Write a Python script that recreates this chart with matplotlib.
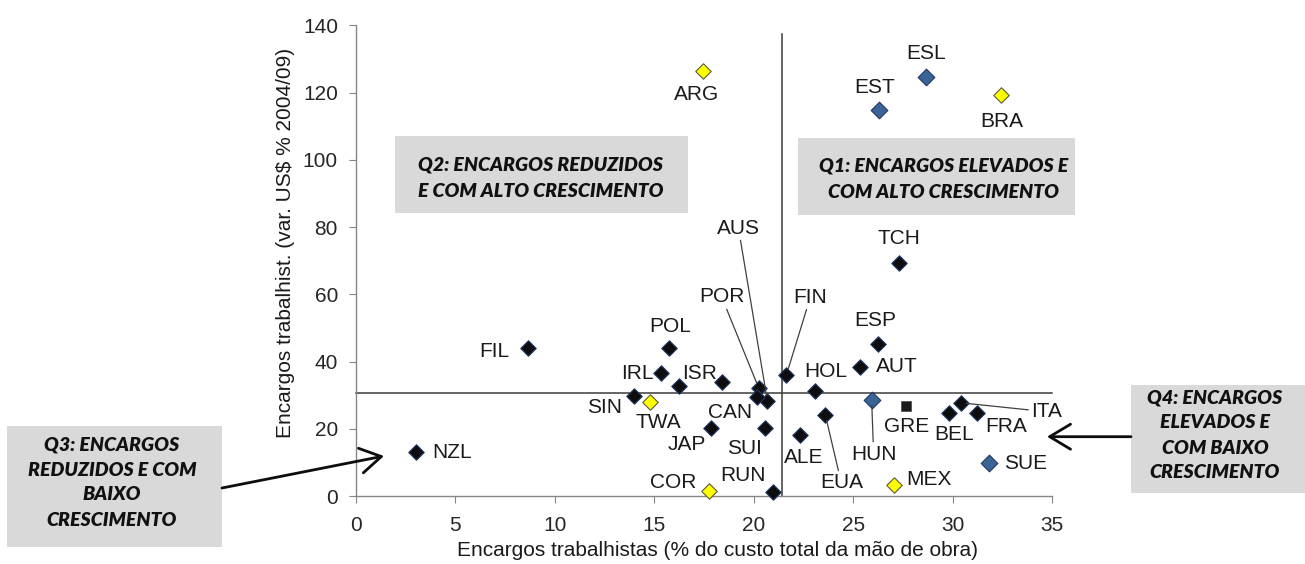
import matplotlib
matplotlib.use("Agg")
import matplotlib.pyplot as plt
from matplotlib.patches import Rectangle, FancyArrowPatch

W, H = 1305, 564

# dados
paises = ["ARG", "ESL", "EST", "BRA", "TCH", "ESP", "AUT", "HOL", "FIN", "AUS",
          "POR", "CAN", "POL", "IRL", "ISR", "", "SIN", "TWA", "JAP", "SUI",
          "RUN", "COR", "ALE", "EUA", "HUN", "GRE", "BEL", "ITA", "FRA", "SUE",
          "MEX", "FIL", "NZL"]
encargos = [17.45, 28.68, 26.30, 32.45, 27.30, 26.25, 25.33, 23.10, 21.64, 20.69,
            20.25, 20.15, 15.74, 15.33, 18.41, 16.23, 13.97, 14.77, 17.84, 20.59,
            20.97, 17.74, 22.31, 23.60, 25.93, 27.64, 29.80, 30.40, 31.22, 31.82,
            27.05, 8.63, 3.00]
variacao = [126.5, 124.7, 114.8, 119.3, 69.2, 45.3, 38.5, 31.4, 36.0, 28.3,
            32.2, 29.5, 44.0, 36.6, 34.1, 32.8, 29.8, 28.1, 20.4, 20.2,
            1.2, 1.6, 18.2, 24.2, 28.6, 26.8, 24.8, 27.8, 24.7, 9.8,
            3.4, 44.2, 13.1]
grupo = ["C", "B", "B", "C", "A", "A", "A", "A", "A", "A",
         "A", "A", "A", "A", "A", "A", "A", "C", "A", "A",
         "A", "C", "A", "A", "B", "D", "A", "A", "A", "B",
         "C", "A", "A"]

mediana_x = 21.4
mediana_y = 30.7
topo_linha_v = 137.5

x_ticks = [0, 5, 10, 15, 20, 25, 30, 35]
y_ticks = [0, 20, 40, 60, 80, 100, 120, 140]

# estilo dos marcadores por grupo
ESTILO = {
    "A": dict(marker="D", s=62, color="#0d0d0d", edgecolors="#1f3864", linewidths=0.8),
    "B": dict(marker="D", s=72, color="#3b6496", edgecolors="#1f3864", linewidths=0.8),
    "C": dict(marker="D", s=62, color="#ffff00", edgecolors="#5a5a3a", linewidths=0.8),
    "D": dict(marker="s", s=50, color="#1a1a1a", edgecolors="#555555", linewidths=0.6),
}

# deslocamento dos rotulos (pixels) e quais tem linha de chamada
ROTULO = {
    "ARG": (-6, -24), "ESL": (0, 23), "EST": (-4, 22), "BRA": (0, -27),
    "TCH": (0, 25), "ESP": (-3, 23), "AUT": (37, 0), "HOL": (10, 19),
    "FIN": (24, 78), "AUS": (-29, 173), "POR": (-37, 91), "CAN": (-27, -15),
    "POL": (1, 22), "IRL": (-23, 0), "ISR": (-23, 8), "SIN": (-29, -11),
    "TWA": (9, -21), "JAP": (-24, -17), "SUI": (-21, -20), "RUN": (-30, 17),
    "COR": (-36, 8), "ALE": (4, -22), "EUA": (16, -68), "HUN": (2, -54),
    "GRE": (1, -20), "BEL": (5, -22), "FRA": (29, -13), "ITA": (86, -9),
    "SUE": (37, 0), "MEX": (35, 5), "FIL": (-33, -4), "NZL": (36, 0),
}
CHAMADA = {"FIN", "AUS", "POR", "EUA", "HUN", "ITA"}

FONTE = "Liberation Sans"
FONTE_CAIXA = "Lato"


def fx(px):
    return px / W


def fy(py):
    return 1 - py / H


fig = plt.figure(figsize=(W / 100, H / 100), dpi=100)
ax = fig.add_axes([fx(356), fy(496.3), fx(1052) - fx(356), fy(25.2) - fy(496.3)])
ax.patch.set_visible(False)

ax.plot([mediana_x, mediana_x], [0, topo_linha_v], color="#3a3a3a", lw=1.1, zorder=1)
ax.plot([0, 35], [mediana_y, mediana_y], color="#3a3a3a", lw=1.1, zorder=1,
        clip_on=False)

for g, st in ESTILO.items():
    xs = [x for x, gg in zip(encargos, grupo) if gg == g]
    ys = [y for y, gg in zip(variacao, grupo) if gg == g]
    ax.scatter(xs, ys, zorder=4, clip_on=False, **st)

for nome, x, y in zip(paises, encargos, variacao):
    if not nome:
        continue
    dx, dy = ROTULO[nome]
    kw = {}
    if nome in CHAMADA:
        kw["arrowprops"] = dict(arrowstyle="-", color="#404040", lw=0.9,
                                shrinkA=0, shrinkB=4)
    ax.annotate(nome, (x, y), xytext=(dx, dy), textcoords="offset pixels",
                ha="center", va="center", fontsize=15, family=FONTE,
                color="#1a1a1a", zorder=5, **kw)

ax.set_xlim(0, 35)
ax.set_ylim(0, 140)
ax.set_xticks(x_ticks)
ax.set_yticks(y_ticks)
ax.tick_params(axis="both", direction="out", length=5, color="#868686",
               labelsize=15, labelcolor="#262626")
ax.tick_params(axis="x", pad=9)
ax.tick_params(axis="y", pad=8)
for lab in ax.get_xticklabels() + ax.get_yticklabels():
    lab.set_family(FONTE)
for side in ("top", "right"):
    ax.spines[side].set_visible(False)
for side in ("left", "bottom"):
    ax.spines[side].set_color("#868686")
    ax.spines[side].set_linewidth(1.0)

ax.set_xlabel("Encargos trabalhistas (% do custo total da mão de obra)",
              fontsize=15, family=FONTE, color="#1a1a1a", va="center")
ax.xaxis.set_label_coords(0.52, -0.116)
ax.set_ylabel("Encargos trabalhist. (var. US$ % 2004/09)",
              fontsize=15, family=FONTE, color="#1a1a1a", va="center")
ax.yaxis.set_label_coords(-0.102, 0.538)

# caixas dos quadrantes (pixels da figura)
caixas = [
    ((395, 136, 688, 213), 541, [(165, "Q2: ENCARGOS REDUZIDOS"), (191, "E COM ALTO CRESCIMENTO")]),
    ((798, 138, 1075, 215), 944, [(166, "Q1: ENCARGOS ELEVADOS E"), (192, "COM ALTO CRESCIMENTO")]),
    ((7, 426, 222, 547), 112, [(445, "Q3: ENCARGOS"), (470, "REDUZIDOS E COM"),
                               (495, "BAIXO"), (520, "CRESCIMENTO")]),
    ((1131, 385, 1310, 493), 1215, [(398, "Q4: ENCARGOS"), (423, "ELEVADOS E"),
                                    (448, "COM BAIXO"), (473, "CRESCIMENTO")]),
]
for (x0, y0, x1, y1), cx, linhas in caixas:
    fig.add_artist(Rectangle((fx(x0), fy(y1)), fx(x1) - fx(x0), fy(y0) - fy(y1),
                             transform=fig.transFigure, facecolor="#d9d9d9",
                             edgecolor="none", zorder=-1))
    for py, txt in linhas:
        fig.text(fx(cx), fy(py), txt, ha="center", va="center", fontsize=14,
                 family=FONTE_CAIXA, weight="heavy", style="italic", color="#111111")

for (xa, ya), (xb, yb) in [((222, 488), (384, 456)), ((1131, 436.7), (1047, 436.7))]:
    fig.add_artist(FancyArrowPatch((fx(xa), fy(ya)), (fx(xb), fy(yb)),
                                   transform=fig.transFigure,
                                   arrowstyle="->,head_length=0.75,head_width=0.45",
                                   mutation_scale=20, color="#0d0d0d", lw=2.0,
                                   shrinkA=0, shrinkB=0))

fig.savefig("out.png", dpi=100)
